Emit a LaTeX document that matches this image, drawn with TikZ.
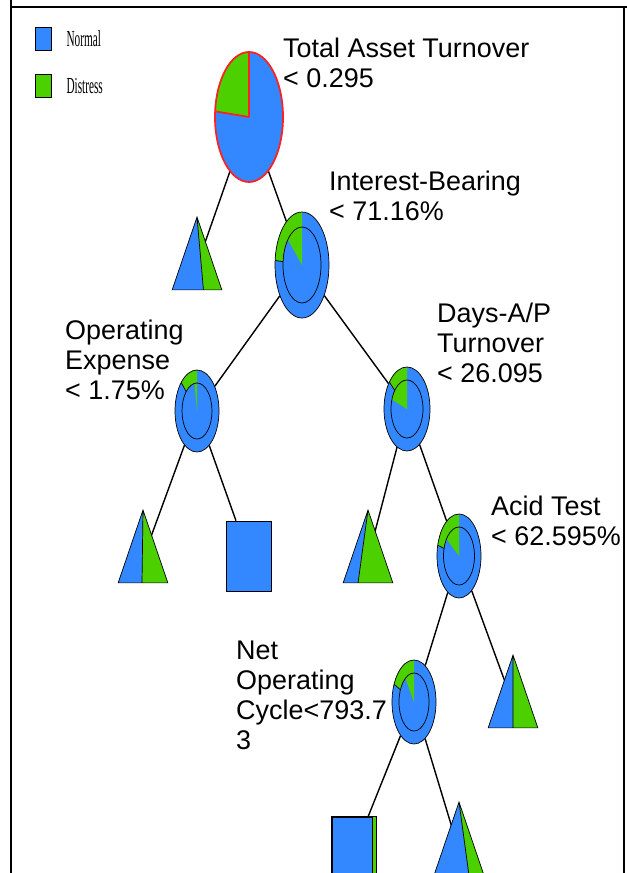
\documentclass[tikz,border=0pt]{standalone}
\usepackage{fontspec}
\setmainfont{Liberation Sans}
\newfontfamily\legendfont{Liberation Serif}
\usetikzlibrary{shapes.geometric,positioning,calc,backgrounds}

\definecolor{nblue}{HTML}{3388FF}
\definecolor{dgreen}{HTML}{4CD000}
\definecolor{splitred}{HTML}{FF2020}

\tikzset{
  split/.style={ellipse, inner sep=0pt},
  leaf/.style={isosceles triangle, shape border rotate=90, isosceles triangle stretches,
    minimum width=14.7mm, minimum height=21.6mm, inner sep=0pt},
  box/.style={rectangle, draw, line width=0.6pt, fill=nblue, minimum width=13.5mm,
    minimum height=21mm, inner sep=0pt},
  swatch/.style={rectangle, draw, line width=0.6pt, minimum width=4.8mm,
    minimum height=6.9mm, inner sep=0pt},
  cond/.style={font=\fontsize{23}{25.6}\selectfont, align=left, inner sep=0pt,
    anchor=base west},
  keytext/.style={font=\legendfont\fontsize{19.6}{20}\selectfont, inner sep=0pt},
  edge/.style={draw, line width=1.2pt},
}

% split node: name, position, rx, ry, ring angle, inner rx, inner ry, inner angle
\newcommand{\ringpie}[8]{
  \node[split, minimum width={2*#3*0.3mm}, minimum height={2*#4*0.3mm}] (#1) at (#2) {};
  \fill[nblue] (#1.center) ellipse [x radius=#3, y radius=#4];
  \fill[dgreen] (#1.center) -- +(90:#3 and #4)
    arc [start angle=90, end angle=#5, x radius=#3, y radius=#4] -- cycle;
  \fill[nblue] (#1.center) ellipse [x radius=#6, y radius=#7];
  \fill[dgreen] (#1.center) -- +(90:#6 and #7)
    arc [start angle=90, end angle=#8, x radius=#6, y radius=#7] -- cycle;
  \draw[line width=0.6pt] ($(#1.center)+(#5:#6 and #7)$) -- ($(#1.center)+(#5:#3 and #4)$);
  \draw[line width=0.6pt] (#1.center) ellipse [x radius=#6, y radius=#7];
  \draw[line width=0.6pt] (#1.center) ellipse [x radius=#3, y radius=#4];
}

% leaf: name, apex position, blue share of the base
\newcommand{\leafnode}[3]{
  \node[leaf, anchor=apex] (#1) at (#2) {};
  \coordinate (#1-mid) at ($0.3333*(#1.apex)+0.3333*(#1.left corner)+0.3333*(#1.right corner)$);
  \fill[nblue] (#1.apex) -- (#1.left corner)
    -- ($(#1.left corner)!#3!(#1.right corner)$) -- cycle;
  \fill[dgreen] (#1.apex) -- (#1.right corner)
    -- ($(#1.left corner)!#3!(#1.right corner)$) -- cycle;
  \draw[line width=0.6pt] (#1.apex) -- (#1.left corner) -- (#1.right corner) -- cycle
    (#1.apex) -- ($(#1.left corner)!#3!(#1.right corner)$);
}

\begin{document}
\begin{tikzpicture}[x=0.3mm, y=0.3mm]
  \clip (0,0) rectangle (627,-873);

  % frame
  \draw[line width=0.6mm] (11,0) -- (11,-873);
  \draw[line width=0.6mm] (11,-7) -- (627,-7);
  \draw[line width=0.6mm] (624,-7) -- (624,-873);

  % key
  \node[swatch, fill=nblue] (key-normal) at (43,-38.5) {};
  \node[swatch, fill=dgreen] (key-distress) at (43,-86) {};
  \node[keytext, right=4.5mm of key-normal] (key-normal-txt) {\scalebox{0.49}[1]{Normal}};
  \node[keytext, right=4.5mm of key-distress] (key-distress-txt) {\scalebox{0.49}[1]{Distress}};

  % root split
  \node[split, minimum width=20.4mm, minimum height=39mm] (tat) at (249,-117) {};
  \fill[nblue] (tat.center) ellipse [x radius=34, y radius=65];
  \fill[dgreen] (tat.center) -- +(90:34 and 65)
    arc [start angle=90, end angle=175, x radius=34, y radius=65] -- cycle;
  \draw[splitred, line width=1.5pt] (tat.center) ellipse [x radius=34, y radius=65]
    (tat.center) -- +(90:34 and 65)
    (tat.center) -- +(175:34 and 65);

  \ringpie{ibd}{302,-265}{27}{53}{175}{19}{38}{138}
  \ringpie{opx}{197,-411}{22}{41}{136}{15}{28}{100}
  \ringpie{dap}{407,-409}{23}{42}{140}{16}{29}{161}
  \ringpie{acid}{459,-556}{22}{42}{165}{15.5}{29}{144}
  \ringpie{noc}{414,-702}{22}{42}{155}{15}{29}{125}

  \leafnode{tat-leaf}{197,-217}{0.63}
  \leafnode{opx-leaf}{143,-510}{0.48}
  \leafnode{dap-leaf}{368,-510}{0.3}
  \leafnode{acid-leaf}{513,-655}{0.5}
  \leafnode{noc-leaf}{459,-802}{0.7}

  \node[box] (opx-box) at (248.5,-556) {};
  \node[box, minimum width=13.2mm] (noc-box) at (354,-852) {};
  \fill[dgreen] ($(noc-box.north east)+(-4,0)$) rectangle (noc-box.south east);
  \draw[line width=0.6pt] ($(noc-box.north east)+(-4,0)$) -- ($(noc-box.south east)+(-4,0)$)
    (noc-box.north west) rectangle (noc-box.south east);

  \begin{scope}[on background layer]
    \draw[edge] (tat) -- (tat-leaf-mid);
    \draw[edge] (tat) -- (ibd);
    \draw[edge] (ibd) -- (opx);
    \draw[edge] (ibd) -- (dap);
    \draw[edge] (opx) -- (opx-leaf-mid);
    \draw[edge] (opx) -- (opx-box);
    \draw[edge] (dap) -- (dap-leaf-mid);
    \draw[edge] (dap) -- (acid);
    \draw[edge] (acid) -- (noc);
    \draw[edge] (acid) -- (acid-leaf-mid);
    \draw[edge] (noc) -- (noc-box);
    \draw[edge] (noc) -- (noc-leaf-mid);
  \end{scope}

  % split conditions
  \node[cond] (tat-txt) at (283,-87) {Total Asset Turnover\\< 0.295};
  \node[cond] (ibd-txt) at (329,-220) {Interest-Bearing\\< 71.16\%};
  \node[cond] (opx-txt) at (65,-399) {Operating\\Expense\\< 1.75\%};
  \node[cond] (dap-txt) at (437,-382) {Days-A/P\\Turnover\\< 26.095};
  \node[cond] (acid-txt) at (491,-545) {Acid Test\\< 62.595\%};
  \node[cond] (noc-txt) at (236,-749) {Net\\Operating\\Cycle<793.7\\3};
\end{tikzpicture}
\end{document}
